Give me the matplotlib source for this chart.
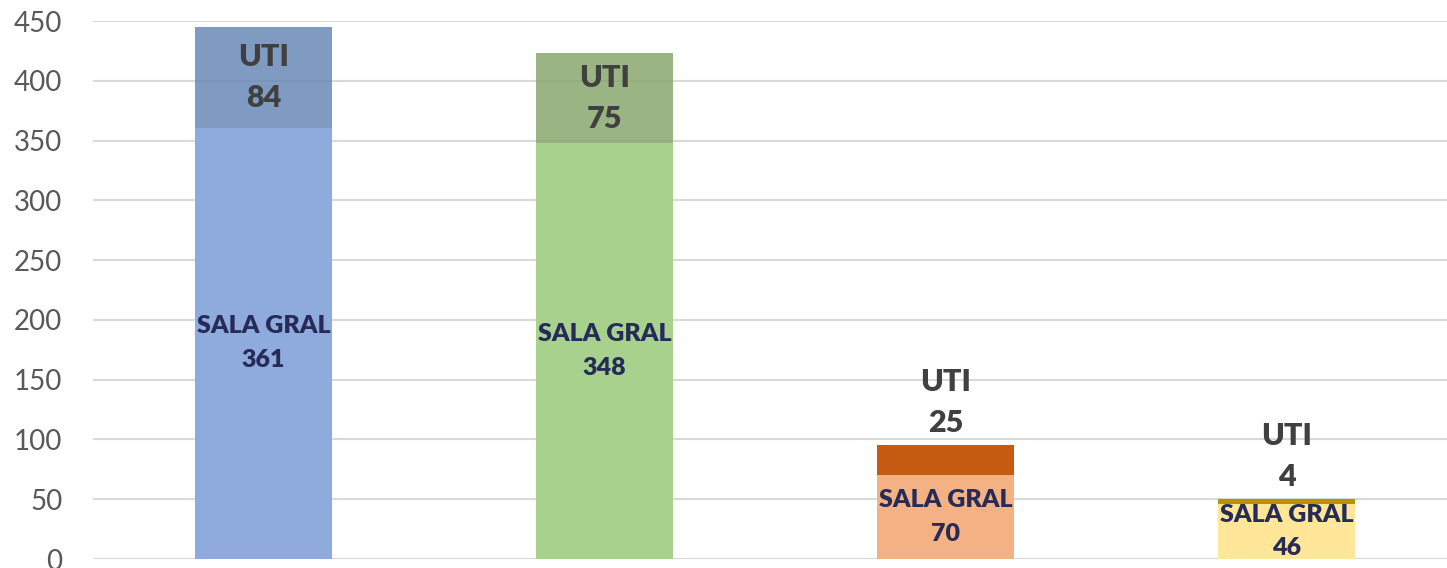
import matplotlib
matplotlib.use('Agg')
import matplotlib.pyplot as plt

plt.rcParams['font.family'] = ['Lato', 'DejaVu Sans']

# four groups, no category labels shown on the chart
categories = ['A', 'B', 'C', 'D']
sala_gral = [361, 348, 70, 46]
uti = [84, 75, 25, 4]

sala_colors = ['#8FAADC', '#A9D18E', '#F4B183', '#FFE699']
uti_colors = ['#6A8AB6', '#88A86D', '#C55A11', '#BF9000']
uti_alpha = [0.85, 0.85, 1.0, 1.0]

LABEL_DARK = '#404040'
LABEL_NAVY = '#262C57'


def main():
    fig = plt.figure(figsize=(14.47, 5.68), dpi=100)
    ax = fig.add_axes([0.0643, 0.0158, 0.9426, 0.947])

    x = list(range(len(categories)))
    width = 0.40

    ax.bar(x, sala_gral, width, color=sala_colors, zorder=2)
    for i in x:
        ax.bar(i, uti[i], width, bottom=sala_gral[i], color=uti_colors[i],
               alpha=uti_alpha[i], zorder=3)

    for i in x:
        # SALA GRAL label in middle of lower segment
        ax.text(i, sala_gral[i] / 2, 'SALA GRAL\n{}'.format(sala_gral[i]),
                ha='center', va='center', fontsize=18, fontweight='heavy',
                color=LABEL_NAVY, linespacing=1.65, zorder=5)
        top = sala_gral[i] + uti[i]
        if uti[i] > 40:
            ax.text(i, sala_gral[i] + uti[i] / 2, 'UTI\n{}'.format(uti[i]),
                    ha='center', va='center', fontsize=22, fontweight='heavy',
                    color=LABEL_DARK, linespacing=1.55, zorder=5)
        else:
            ax.annotate('UTI\n{}'.format(uti[i]), (i, top),
                        xytext=(0, 6), textcoords='offset points',
                        ha='center', va='bottom', fontsize=22,
                        fontweight='heavy', color=LABEL_DARK,
                        linespacing=1.55, zorder=5)

    ax.set_xlim(-0.5, 3.5)
    ax.set_ylim(0, 450)
    ax.set_yticks(range(0, 451, 50))
    ax.set_xticks([])
    ax.tick_params(axis='y', length=0, pad=22, labelsize=20,
                   labelcolor='#595959')
    ax.yaxis.grid(True, color='#D9D9D9', linewidth=1.5, zorder=0)
    ax.set_axisbelow(True)
    for s in ax.spines.values():
        s.set_visible(False)

    fig.savefig('out.png', dpi=100)


if __name__ == '__main__':
    main()
